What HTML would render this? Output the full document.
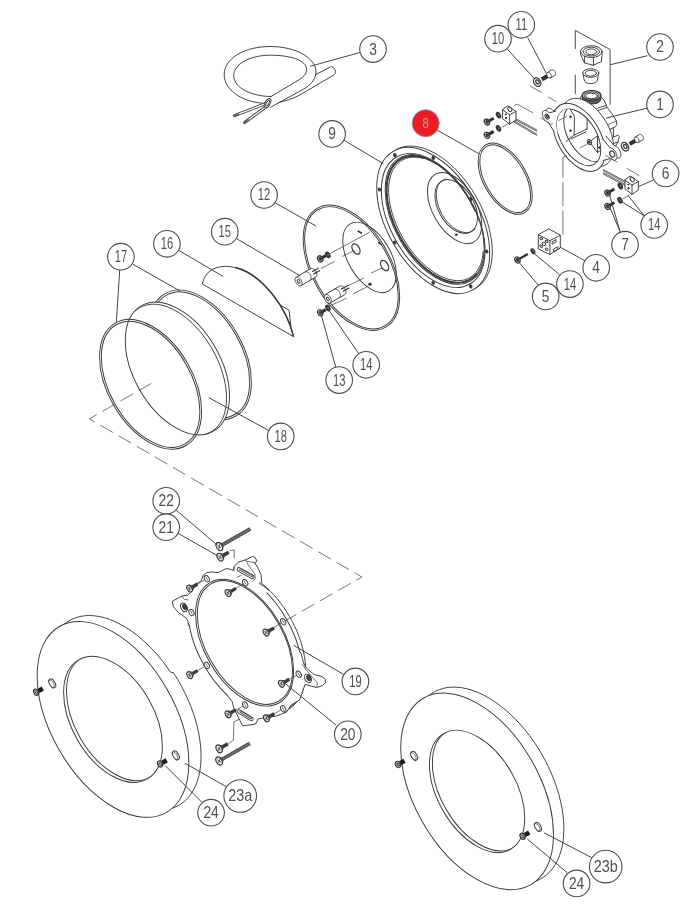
<!DOCTYPE html>
<html><head><meta charset="utf-8"><title>Exploded view</title>
<style>
html,body{margin:0;padding:0;background:#fff;}
body{width:696px;height:919px;overflow:hidden;font-family:"Liberation Sans",sans-serif;}
svg{display:block;}
svg *{vector-effect:none;}
.g line,.g path,.g ellipse,.g circle,.g polyline,.g rect{fill:none;stroke:#3a3a3a;stroke-width:0.95;stroke-linecap:round;stroke-linejoin:round;}
.g .w{fill:#fff;}
.g .k{fill:#3a3a3a;}
.g .thin{stroke-width:0.7;}
.g .cl{stroke:#555;stroke-width:0.8;stroke-dasharray:14.5 6.5;stroke-linecap:butt;}
.g .ld{stroke:#444;stroke-width:1.0;}
.g .cl2{stroke:#555;stroke-width:0.8;stroke-dasharray:24 4.5;stroke-linecap:butt;}
.g text.t{font-family:"Liberation Sans",sans-serif;font-size:16px;text-anchor:middle;fill:#505050;stroke:none;}
</style></head><body>
<svg width="696" height="919" viewBox="0 0 696 919"><defs><filter id="soft" x="0" y="0" width="696" height="919" filterUnits="userSpaceOnUse"><feGaussianBlur stdDeviation="0.42"/></filter></defs><g class="g" filter="url(#soft)">
<ellipse cx="200.4" cy="354.9" rx="70.7" ry="42.5" transform="rotate(60 200.4 354.9)"/>
<ellipse cx="200.4" cy="354.9" rx="68.8" ry="40.7" transform="rotate(60 200.4 354.9)"/>
<ellipse cx="177.4" cy="368.5" rx="72.3" ry="43.3" transform="rotate(60 177.4 368.5)" class="w"/>
<path d="M205.8 434 L208.6 433 L211.2 431.7 L213.7 430.1 L215.9 428.2 L218 426 L219.9 423.5 L221.5 420.8 L223 417.8 L224.2 414.5 L225.1 411.1 L225.8 407.5 L226.3 403.6 L226.5 399.6 L226.5 395.5 L226.2 391.2 L225.7 386.9 L224.9 382.4 L223.9 377.9 L222.7 373.4 L221.2 368.8 L219.5 364.2 L217.6 359.7 L215.5 355.2 L213.2 350.8 L210.7 346.4 L208 342.2 L205.2 338.2 L202.2 334.2 L199.1 330.5 L195.9 326.9 L192.6 323.6 L189.1 320.4 L185.7 317.5 L182.2 314.9 L178.6 312.5 L175 310.4 L171.5 308.6 L167.9 307.1 L164.4 305.9 L160.9 305 L157.6 304.5 L154.3 304.2 L151.1 304.3 L148 304.7 L145 305.4 L142.2 306.4 L139.6 307.7 L137.1 309.3 L134.9 311.2"/>
<ellipse cx="150.6" cy="384.3" rx="70.7" ry="42.5" transform="rotate(60 150.6 384.3)"/>
<ellipse cx="150.6" cy="384.3" rx="68.8" ry="40.7" transform="rotate(60 150.6 384.3)"/>
<path d="M279.7 304.8 L289.1 310.3 L290.9 325.9"/>
<path d="M202.4 283.6 C205 272 213 266.8 224.5 266.4 C241 265.8 259 277.5 272.8 294.8 C283 307.5 290 322 293.4 336.2 Z" class="w"/>
<path d="M236 267.8 C250 271 263 282.5 272.8 294.8 C283 307.5 290 322 293.4 336.2" style="stroke-width:1.5"/>
<ellipse cx="351.4" cy="267.8" rx="68.6" ry="39.2" transform="rotate(60 351.4 267.8)" class="w"/>
<ellipse cx="351.4" cy="267.8" rx="67" ry="37.7" transform="rotate(60 351.4 267.8)"/>
<ellipse cx="369.5" cy="257.4" rx="38.7" ry="21.4" transform="rotate(60 369.5 257.4)"/>
<ellipse cx="356" cy="249" rx="5.6" ry="3.4" transform="rotate(60 356 249)" style="stroke-width:1.3"/>
<ellipse cx="384.6" cy="265.5" rx="5.6" ry="3.4" transform="rotate(60 384.6 265.5)" style="stroke-width:1.3"/>
<circle cx="369.9" cy="284.2" r="1.3" class="k"/>
<line x1="358.3" y1="231.2" x2="361.3" y2="233" style="stroke-width:1.8"/>
<line x1="378.8" y1="242.6" x2="380.6" y2="244.2" style="stroke-width:1.8"/>
<line x1="330.3" y1="253.4" x2="369.5" y2="232.3" class="thin"/>
<line x1="342.4" y1="256.4" x2="352.4" y2="251.4" class="thin"/>
<line x1="321.2" y1="268.5" x2="334.3" y2="261.5" class="thin"/>
<line x1="371.5" y1="272.9" x2="381.6" y2="268.1" class="thin"/>
<line x1="348.4" y1="285.6" x2="363.5" y2="278.2" class="thin"/>
<line x1="353.4" y1="293.7" x2="367.5" y2="286.6" class="thin"/>
<line x1="332.3" y1="304.7" x2="346.4" y2="298.3" class="thin"/>
<line x1="321.5" y1="258.1" x2="325.8" y2="255.6" style="stroke:#2e2e2e;stroke-width:3;stroke-linecap:butt"/>
<ellipse cx="320.2" cy="258.9" rx="3.2" ry="2.4" transform="rotate(60 320.2 258.9)" class="w" style="stroke-width:1.3"/>
<ellipse cx="320.4" cy="258.8" rx="1.6" ry="1.2" transform="rotate(60 320.4 258.8)" class="k"/>
<ellipse cx="327.9" cy="254.8" rx="3.1" ry="1.9" transform="rotate(60 327.9 254.8)" style="fill:#3a3a3a;stroke:#2e2e2e;stroke-width:0.9"/>
<ellipse cx="328.1" cy="254.7" rx="1.1" ry="0.6" transform="rotate(60 328.1 254.7)" style="fill:#8a8a8a;stroke:none"/>
<line x1="321.5" y1="312.1" x2="325.8" y2="309.6" style="stroke:#2e2e2e;stroke-width:3;stroke-linecap:butt"/>
<ellipse cx="320.2" cy="312.8" rx="3.2" ry="2.4" transform="rotate(60 320.2 312.8)" class="w" style="stroke-width:1.3"/>
<ellipse cx="320.4" cy="312.7" rx="1.6" ry="1.2" transform="rotate(60 320.4 312.7)" class="k"/>
<ellipse cx="327.9" cy="308" rx="3.1" ry="1.9" transform="rotate(60 327.9 308)" style="fill:#3a3a3a;stroke:#2e2e2e;stroke-width:0.9"/>
<ellipse cx="328.1" cy="307.9" rx="1.1" ry="0.6" transform="rotate(60 328.1 307.9)" style="fill:#8a8a8a;stroke:none"/>
<path d="M296.2 277.2 L296 277.4 L295.9 277.5 L295.7 277.6 L295.6 277.8 L295.5 278 L295.4 278.2 L295.3 278.4 L295.2 278.6 L295.2 278.9 L295.2 279.1 L295.1 279.4 L295.1 279.7 L295.2 280 L295.2 280.3 L295.2 280.6 L295.3 280.9 L295.4 281.2 L295.5 281.5 L295.6 281.8 L295.7 282.1 L295.9 282.4 L296 282.7 L296.2 283 L296.4 283.3 L296.6 283.5 L296.8 283.8 L297 284.1 L297.2 284.3 L297.4 284.5 L297.6 284.7 L297.9 284.9 L298.1 285.1 L298.4 285.3 L298.6 285.4 L298.8 285.5 L299.1 285.6 L299.3 285.7 L299.5 285.7 L299.8 285.8 L300 285.8 L300.2 285.8 L300.4 285.8 L300.6 285.7 L300.8 285.6 L301 285.6 L315.7 277.1 L315.9 276.9 L316 276.8 L316.2 276.7 L316.3 276.5 L316.4 276.3 L316.5 276.1 L316.6 275.9 L316.7 275.7 L316.7 275.4 L316.8 275.2 L316.8 274.9 L316.8 274.6 L316.8 274.3 L316.7 274 L316.7 273.7 L316.6 273.4 L316.5 273.1 L316.4 272.8 L316.3 272.5 L316.2 272.2 L316.1 271.9 L315.9 271.6 L315.7 271.3 L315.6 271 L315.4 270.8 L315.2 270.5 L315 270.2 L314.7 270 L314.5 269.8 L314.3 269.6 L314 269.4 L313.8 269.2 L313.6 269 L313.3 268.9 L313.1 268.8 L312.8 268.7 L312.6 268.6 L312.4 268.6 L312.1 268.5 L311.9 268.5 L311.7 268.5 L311.5 268.5 L311.3 268.6 L311.1 268.7 L310.9 268.7 Z" class="w"/>
<path d="M301 285.6 L301.2 285.4 L301.3 285.3 L301.5 285.2 L301.6 285 L301.7 284.8 L301.8 284.6 L301.9 284.4 L302 284.2 L302 283.9 L302 283.7 L302.1 283.4 L302.1 283.1 L302 282.8 L302 282.5 L302 282.2 L301.9 281.9 L301.8 281.6 L301.7 281.3 L301.6 281 L301.5 280.7 L301.3 280.4 L301.2 280.1 L301 279.8 L300.8 279.5 L300.6 279.3 L300.4 279 L300.2 278.7 L300 278.5 L299.8 278.3 L299.6 278.1 L299.3 277.9 L299.1 277.7 L298.8 277.5 L298.6 277.4 L298.4 277.3 L298.1 277.2 L297.9 277.1 L297.7 277.1 L297.4 277 L297.2 277 L297 277 L296.8 277 L296.6 277.1 L296.4 277.2 L296.2 277.2"/>
<ellipse cx="298.6" cy="281.4" rx="2" ry="1.2" transform="rotate(60 298.6 281.4)"/>
<path d="M309.9 280.4 L310.1 280.3 L310.3 280.2 L310.4 280.1 L310.6 279.9 L310.7 279.8 L310.8 279.6 L310.9 279.4 L311 279.2 L311.1 278.9 L311.1 278.7 L311.2 278.4 L311.2 278.2 L311.2 277.9 L311.2 277.6 L311.1 277.3 L311.1 277 L311 276.7 L310.9 276.4 L310.8 276.1 L310.7 275.7 L310.6 275.4 L310.5 275.1 L310.3 274.8 L310.1 274.5 L310 274.3 L309.8 274 L309.6 273.7 L309.3 273.5 L309.1 273.2 L308.9 273 L308.7 272.8 L308.4 272.6 L308.2 272.4 L307.9 272.3 L307.7 272.1 L307.5 272 L307.2 271.9 L307 271.8 L306.7 271.8 L306.5 271.7 L306.3 271.7 L306.1 271.7 L305.9 271.8 L305.7 271.8 L305.5 271.9 L305.3 272 L305.1 272.1"/>
<line x1="312.5" y1="271.5" x2="318.2" y2="268.3" style="stroke-width:1.3"/>
<line x1="313.9" y1="273.9" x2="319.6" y2="270.7" style="stroke-width:1.3"/>
<path d="M325.4 294.6 L325.2 294.8 L325.1 294.9 L324.9 295 L324.8 295.2 L324.7 295.4 L324.6 295.6 L324.5 295.8 L324.4 296 L324.4 296.3 L324.4 296.5 L324.3 296.8 L324.3 297.1 L324.4 297.4 L324.4 297.7 L324.4 298 L324.5 298.3 L324.6 298.6 L324.7 298.9 L324.8 299.2 L324.9 299.5 L325.1 299.8 L325.2 300.1 L325.4 300.4 L325.6 300.7 L325.8 300.9 L326 301.2 L326.2 301.5 L326.4 301.7 L326.6 301.9 L326.8 302.1 L327.1 302.3 L327.3 302.5 L327.6 302.7 L327.8 302.8 L328 302.9 L328.3 303 L328.5 303.1 L328.7 303.1 L329 303.2 L329.2 303.2 L329.4 303.2 L329.6 303.2 L329.8 303.1 L330 303 L330.2 303 L344.9 294.5 L345.1 294.3 L345.2 294.2 L345.4 294.1 L345.5 293.9 L345.6 293.7 L345.7 293.5 L345.8 293.3 L345.9 293.1 L345.9 292.8 L346 292.6 L346 292.3 L346 292 L346 291.7 L345.9 291.4 L345.9 291.1 L345.8 290.8 L345.7 290.5 L345.6 290.2 L345.5 289.9 L345.4 289.6 L345.3 289.3 L345.1 289 L344.9 288.7 L344.8 288.4 L344.6 288.2 L344.4 287.9 L344.2 287.6 L343.9 287.4 L343.7 287.2 L343.5 287 L343.2 286.8 L343 286.6 L342.8 286.4 L342.5 286.3 L342.3 286.2 L342 286.1 L341.8 286 L341.6 286 L341.3 285.9 L341.1 285.9 L340.9 285.9 L340.7 285.9 L340.5 286 L340.3 286.1 L340.1 286.1 Z" class="w"/>
<path d="M330.2 303 L330.4 302.8 L330.5 302.7 L330.7 302.6 L330.8 302.4 L330.9 302.2 L331 302 L331.1 301.8 L331.2 301.6 L331.2 301.3 L331.2 301.1 L331.3 300.8 L331.3 300.5 L331.2 300.2 L331.2 299.9 L331.2 299.6 L331.1 299.3 L331 299 L330.9 298.7 L330.8 298.4 L330.7 298.1 L330.5 297.8 L330.4 297.5 L330.2 297.2 L330 296.9 L329.8 296.7 L329.6 296.4 L329.4 296.1 L329.2 295.9 L329 295.7 L328.8 295.5 L328.5 295.3 L328.3 295.1 L328 294.9 L327.8 294.8 L327.6 294.7 L327.3 294.6 L327.1 294.5 L326.9 294.5 L326.6 294.4 L326.4 294.4 L326.2 294.4 L326 294.4 L325.8 294.5 L325.6 294.6 L325.4 294.6"/>
<ellipse cx="327.8" cy="298.8" rx="2" ry="1.2" transform="rotate(60 327.8 298.8)"/>
<path d="M339.1 297.8 L339.3 297.7 L339.5 297.6 L339.6 297.5 L339.8 297.3 L339.9 297.2 L340 297 L340.1 296.8 L340.2 296.6 L340.3 296.3 L340.3 296.1 L340.4 295.8 L340.4 295.6 L340.4 295.3 L340.4 295 L340.3 294.7 L340.3 294.4 L340.2 294.1 L340.1 293.8 L340 293.5 L339.9 293.1 L339.8 292.8 L339.7 292.5 L339.5 292.2 L339.3 291.9 L339.2 291.7 L339 291.4 L338.8 291.1 L338.5 290.9 L338.3 290.6 L338.1 290.4 L337.9 290.2 L337.6 290 L337.4 289.8 L337.1 289.7 L336.9 289.5 L336.7 289.4 L336.4 289.3 L336.2 289.2 L335.9 289.2 L335.7 289.1 L335.5 289.1 L335.3 289.1 L335.1 289.2 L334.9 289.2 L334.7 289.3 L334.5 289.4 L334.3 289.5"/>
<line x1="341.7" y1="288.9" x2="347.4" y2="285.7" style="stroke-width:1.3"/>
<line x1="343.1" y1="291.3" x2="348.8" y2="288.1" style="stroke-width:1.3"/>
<path d="M469.8 290.7 L472.9 289.6 L475.7 288.2 L478.4 286.4 L480.9 284.3 L483.2 281.9 L485.2 279.2 L487 276.1 L488.5 272.8 L489.8 269.3 L490.8 265.5 L491.6 261.4 L492.1 257.2 L492.3 252.8 L492.2 248.2 L491.9 243.4 L491.2 238.6 L490.3 233.6 L489.2 228.6 L487.8 223.5 L486.1 218.5 L484.2 213.4 L482.1 208.3 L479.7 203.3 L477.1 198.4 L474.3 193.5 L471.3 188.8 L468.2 184.3 L464.9 179.9 L461.4 175.7 L457.8 171.7 L454.2 167.9 L450.4 164.4 L446.6 161.2 L442.7 158.2 L438.7 155.6 L434.8 153.2 L430.9 151.2 L426.9 149.5 L423.1 148.1 L419.3 147.1 L415.5 146.4 L411.9 146.1 L408.4 146.1 L405 146.5 L401.8 147.3 L398.7 148.4 L395.8 149.8 L393.2 151.6 L390.7 153.7 Z" class="w"/>
<ellipse cx="433.2" cy="220.5" rx="79.9" ry="46.1" transform="rotate(60 433.2 220.5)" class="w"/>
<ellipse cx="433.2" cy="220.5" rx="73.3" ry="42.3" transform="rotate(60 433.2 220.5)"/>
<clipPath id="p9"><ellipse cx="433.2" cy="220.5" rx="73.3" ry="42.3" transform="rotate(60 433.2 220.5)"/></clipPath>
<g clip-path="url(#p9)">
<ellipse cx="435.1" cy="219.4" rx="71" ry="40.6" transform="rotate(60 435.1 219.4)"/>
<ellipse cx="435.4" cy="219.2" rx="69.5" ry="39.5" transform="rotate(60 435.4 219.2)"/>
<path d="M475.1 210.3 L473.4 206.7 L471.6 203.2 L469.7 199.8 L467.7 196.4 L465.6 193.1 L463.4 189.9 L461.1 186.7 L458.7 183.7 L456.2 180.8 L453.7 178 L451.1 175.4 L448.5 172.8 L445.8 170.5 L443.1 168.3 L440.4 166.2 L437.6 164.3 L434.8 162.6 L432.1 161.1 L429.3 159.8 L426.6 158.7 L423.9 157.7 L421.2 157 L418.6 156.4 L416.1 156.1 L413.6 155.9 L411.1 156 L408.8 156.2 L406.5 156.7 L404.3 157.3 L402.2 158.2 L400.3 159.3 L398.4 160.5 L396.7 161.9 L395.1 163.6 L393.6 165.4 L392.2 167.3 L391 169.5 L389.9 171.8 L389 174.2 L388.2 176.8 L387.6 179.5 L387.1 182.4 L386.8 185.4 L386.6 188.5 L386.6 191.6 L386.8 194.9 L387.1 198.3 L387.5 201.7 L388.1 205.2 L388.9 208.7 L389.8 212.2 L390.9 215.8 L392.1 219.4 L393.4 223 L394.9 226.5 L396.5 230.1 L398.2 233.6 L400.1 237.1 L402 240.5 L404.1 243.8 L406.3 247.1 L408.5 250.3 L410.9 253.3 L413.3 256.3 L415.8 259.2 L418.4 261.9 L421 264.5 L423.6 266.9 L426.3 269.2 L429.1 271.3 L431.8 273.3 L434.6 275.1 L437.3 276.7 L440.1 278.1 L442.8 279.3 L445.5 280.4 L448.2 281.2 L450.9 281.9 L453.4 282.3 L456 282.5 L458.4 282.6 L460.8 282.4 L463.2 282.1 L465.4 281.5 L467.5 280.7 L469.5 279.8 L471.4 278.6 L473.2 277.3 L474.9 275.7 L476.5 274" style="stroke-width:1.9"/>
<path d="M423.2 158.5 L420 157.7 L416.9 157.3 L413.9 157.2 L411 157.3 L408.2 157.8 L405.6 158.6 L403.1 159.6 L400.8 161 L398.7 162.6 L396.7 164.6 L394.9 166.8 L393.4 169.2 L392 171.9 L390.9 174.8 L390 178 L389.3 181.3 L388.8 184.9 L388.6 188.6 L388.6 192.4 L388.9 196.4 L389.4 200.5 L390.1 204.7 L391 209 L392.2 213.3 L393.6 217.6 L395.2 222 L397 226.3 L399 230.6 L401.1 234.8 L403.5 239 L406 243 L408.6 247 L411.4 250.8 L414.3 254.4 L417.3 257.9 L420.4 261.2 L423.6 264.2 L426.9 267.1 L430.2 269.6 L433.5 272 L436.8 274.1 L440.1 275.9 L443.5 277.4 L446.7 278.7 L449.9 279.6 L453.1 280.2 L456.2 280.6 L459.1 280.6 L462 280.4 L464.7 279.8 L467.3 278.9 L469.7 277.7 L471.9 276.3 L474 274.5 L475.9 272.5 L477.6 270.2 L479.1 267.6 L480.4 264.9 L481.4 261.9 L482.2 258.6 L482.8 255.2 L483.2 251.6"/>
</g>
<ellipse cx="454.6" cy="208.1" rx="39" ry="21.8" transform="rotate(60 454.6 208.1)"/>
<ellipse cx="456.2" cy="206.5" rx="29.3" ry="17.8" transform="rotate(60 456.2 206.5)"/>
<path d="M445.8 179.2 L444.6 179.5 L443.5 180 L442.4 180.7 L441.4 181.4 L440.5 182.3 L439.7 183.2 L438.9 184.3 L438.2 185.5 L437.7 186.8 L437.2 188.2 L436.8 189.6 L436.6 191.2 L436.4 192.8 L436.3 194.5 L436.4 196.2 L436.5 198 L436.8 199.8 L437.1 201.6 L437.6 203.5 L438.1 205.4 L438.7 207.3 L439.5 209.1 L440.3 211 L441.2 212.8 L442.2 214.6 L443.2 216.3 L444.4 218 L445.6 219.7 L446.8 221.2 L448.1 222.7 L449.5 224.2 L450.9 225.5 L452.3 226.7 L453.7 227.8 L455.2 228.8 L456.7 229.7 L458.2 230.5 L459.7 231.2 L461.1 231.7 L462.6 232.1 L464 232.4 L465.4 232.6 L466.8 232.6 L468.1 232.5 L469.4 232.2 L470.6 231.9 L471.7 231.4 L472.8 230.7 L473.8 230 L474.7 229.1"/>
<ellipse cx="394.9" cy="155.1" rx="1.6" ry="1.2" class="k" transform="rotate(60 394.9 155.1)"/>
<ellipse cx="433.2" cy="157.9" rx="1.6" ry="1.2" class="k" transform="rotate(60 433.2 157.9)"/>
<ellipse cx="379.4" cy="189.5" rx="1.6" ry="1.2" class="k" transform="rotate(60 379.4 189.5)"/>
<ellipse cx="470.7" cy="199" rx="1.6" ry="1.2" class="k" transform="rotate(60 470.7 199)"/>
<ellipse cx="394.9" cy="242.5" rx="1.6" ry="1.2" class="k" transform="rotate(60 394.9 242.5)"/>
<ellipse cx="486.7" cy="251.5" rx="1.6" ry="1.2" class="k" transform="rotate(60 486.7 251.5)"/>
<ellipse cx="433.2" cy="282.6" rx="1.6" ry="1.2" class="k" transform="rotate(60 433.2 282.6)"/>
<ellipse cx="470.7" cy="286.4" rx="1.6" ry="1.2" class="k" transform="rotate(60 470.7 286.4)"/>
<circle cx="456.2" cy="234.7" r="0.9" class="k"/>
<ellipse cx="505.2" cy="178.7" rx="39.1" ry="21.6" transform="rotate(60 505.2 178.7)"/>
<ellipse cx="505.2" cy="178.7" rx="37.3" ry="19.9" transform="rotate(60 505.2 178.7)"/>
<path d="M575.3 48.5 L575.3 30.4 L610.1 49.5 L610.1 104.4" style="stroke-width:0.9"/>
<line x1="575.3" y1="75" x2="575.3" y2="93.6" style="stroke-width:0.9"/>
<path d="M580.5 51.6 L580.7 54.8 L584.6 62.9 L593.4 65.3 L601.3 61.5 L602.1 55.1 L602.1 51.6" class="w"/>
<line x1="584.6" y1="56.3" x2="584.6" y2="62.9"/>
<line x1="593.4" y1="57.6" x2="593.4" y2="65.3"/>
<ellipse cx="591.3" cy="51.6" rx="10.8" ry="5.9" class="w"/>
<ellipse cx="591.3" cy="51.6" rx="8.3" ry="4.4"/>
<ellipse cx="591.3" cy="51.8" rx="5.4" ry="2.9"/>
<path d="M582.8 73 L584.2 80 A6.6 3.6 0 0 0 597.4 80 L598.8 73" class="w"/>
<ellipse cx="590.8" cy="73" rx="8" ry="4.3" class="w"/>
<ellipse cx="590.8" cy="73.2" rx="5.6" ry="2.9"/>
<path d="M597.5 100.5 L606 104.2 L606.5 106.4 L606.9 107.2 L612.9 115 L616.4 121 L616.8 124.5 L615.5 126.6 L612.9 127.9 L613.4 128.6 L613.4 137 L618.1 135.3 L619.4 136.6 L618.1 141.7 L615.5 146 L611.3 149.5 L600 160 L570 110 L583 99 Z" style="fill:#fff;stroke:none"/>
<path d="M597.5 100.5 L606 104.2 L606.5 106.4 L606.9 107.2 L612.9 115 L616.4 121 L616.8 124.5 L615.5 126.6 L612.9 127.9 L613.4 128.6 L613.4 137 L618.1 135.3 L619.4 136.6 L618.1 141.7 L615.5 146 L611.3 149.5"/>
<line x1="594" y1="109" x2="606" y2="105.5"/>
<line x1="594.8" y1="111.6" x2="606.9" y2="107.4"/>
<line x1="612.9" y1="127.9" x2="607.8" y2="130.3"/>
<line x1="613.4" y1="137" x2="610.6" y2="139.7"/>
<line x1="618.1" y1="141.7" x2="612" y2="144.2"/>
<line x1="616.4" y1="121" x2="604.5" y2="126.3" class="thin"/>
<path d="M594 109 L582.2 102.5 L580.2 97.5 L584 93.5 L600.3 96 L604.2 100.5 L606 104.2 Z" style="fill:#fff;stroke:none"/>
<path d="M594 109 L582.2 102.5 L580.2 97.5 L584 93.5 L600.3 96 L604.2 100.5 L606 104.2"/>
<path d="M582.1 95.4 L582.3 100 A9.4 5.0 0 0 0 600.7 100 L600.9 95.4" style="fill:#5a5a5a;stroke:#333"/>
<ellipse cx="591.5" cy="95.4" rx="9.4" ry="5.0" class="w" style="stroke-width:1.3"/>
<ellipse cx="591.5" cy="95.6" rx="7.6" ry="3.8" style="stroke-width:1.2;stroke:#555"/>
<ellipse cx="591.5" cy="95.9" rx="5.9" ry="2.7" class="w"/>
<path d="M601.7 166.2 L603.2 165.9 L604.6 165.4 L605.9 164.7 L607.2 163.9 L608.3 162.9 L609.4 161.8 L610.3 160.5 L611.2 159.1 L611.9 157.5 L612.5 155.9 L613 154.1 L613.3 152.2 L613.5 150.2 L613.6 148.2 L613.6 146 L613.4 143.8 L613.2 141.6 L612.7 139.2 L612.2 136.9 L611.5 134.5 L610.8 132.2 L609.9 129.8 L608.9 127.4 L607.8 125.1 L606.5 122.8 L605.2 120.5 L603.9 118.3 L602.4 116.2 L600.8 114.2 L599.2 112.2 L597.6 110.3 L595.8 108.6 L594.1 106.9 L592.3 105.4 L590.5 104 L588.6 102.8 L586.8 101.7 L585 100.7 L583.1 99.9 L581.3 99.3 L579.6 98.8 L577.8 98.5 L576.1 98.4 L574.5 98.4 L572.9 98.6 L571.4 98.9 L570 99.4 L568.6 100.1 L567.4 100.9 L566.2 101.9 L565.2 103 Z" class="w"/>
<path d="M607.3 158.1 L614.6 156.2 L615.4 156.9 L616.2 157.4 L616.9 157.7 L617.7 158 L618.4 158 L619.1 157.9 L619.7 157.6 L620.1 157.2 L620.5 156.6 L620.8 155.9 L620.9 155.1 L620.9 154.2 L620.8 153.2 L620.6 152.2 L620.2 151.2 L619.7 150.2 L619.2 149.3 L618.5 148.4 L617.8 147.6 L617.1 146.9 L616.3 146.4 L615.5 145.9 L614.8 145.7 L614 145.6 L606.1 136.1" class="w"/>
<path d="M559.3 109 L553.1 110.5 L552.4 109.8 L551.6 109.2 L550.8 108.7 L550.1 108.3 L549.3 108.1 L548.6 108.1 L548 108.3 L547.4 108.6 L546.9 109 L546.6 109.6 L546.3 110.4 L546.2 111.2 L546.2 112.1 L546.4 113.1 L546.6 114.1 L547 115.1 L547.5 116.1 L548.1 117 L548.7 117.9 L549.5 118.7 L550.2 119.3 L551 119.9 L551.8 120.2 L552.5 120.5 L558.1 129.6" class="w"/>
<ellipse cx="578.8" cy="137.3" rx="37.3" ry="21.5" transform="rotate(60 578.8 137.3)" class="w"/>
<path d="M603.4 160.4 L610.7 158.5 L611.5 159.1 L612.3 159.6 L613.1 160 L613.8 160.2 L614.5 160.3 L615.2 160.1 L615.8 159.9 L616.2 159.4 L616.6 158.9 L616.9 158.2 L617 157.3 L617 156.5 L616.9 155.5 L616.7 154.5 L616.3 153.5 L615.9 152.5 L615.3 151.5 L614.6 150.6 L613.9 149.9 L613.2 149.2 L612.4 148.6 L611.6 148.2 L610.9 147.9 L610.1 147.8 L602.2 138.3" class="w"/>
<ellipse cx="612.2" cy="154" rx="3.2" ry="2.3" transform="rotate(60 612.2 154)" class="w" style="stroke-width:1.1"/>
<path d="M555.4 111.3 L549.2 112.8 L548.5 112 L547.7 111.4 L546.9 110.9 L546.2 110.6 L545.4 110.4 L544.7 110.4 L544.1 110.5 L543.5 110.8 L543 111.3 L542.7 111.9 L542.4 112.6 L542.3 113.4 L542.3 114.3 L542.5 115.3 L542.7 116.3 L543.1 117.3 L543.6 118.3 L544.2 119.3 L544.8 120.1 L545.6 120.9 L546.3 121.6 L547.1 122.1 L547.9 122.5 L548.6 122.7 L554.2 131.9" class="w"/>
<ellipse cx="547.1" cy="116.6" rx="2.7" ry="1.9" transform="rotate(60 547.1 116.6)" class="w"/>
<ellipse cx="547.4" cy="116.4" rx="1.5" ry="1" transform="rotate(60 547.4 116.4)" style="fill:#666"/>
<clipPath id="bore"><ellipse cx="578.8" cy="137.3" rx="31" ry="17.9" transform="rotate(60 578.8 137.3)"/></clipPath>
<ellipse cx="578.8" cy="137.3" rx="31" ry="17.9" transform="rotate(60 578.8 137.3)" class="w"/>
<g clip-path="url(#bore)">
<path d="M568.7 107.1 L574.5 116.3 L574.1 135.2 L566 141.5 L555 130 L560 105 Z" style="fill:#fff;stroke:none"/>
<path d="M568.7 107.1 L574.5 116.3 L574.1 135.2 L566 141.5"/>
<line x1="574.1" y1="135.2" x2="587.1" y2="128.9"/>
<line x1="587.1" y1="128.9" x2="587.1" y2="112"/>
<line x1="571" y1="138.9" x2="586" y2="131.8"/>
<circle cx="570.5" cy="116.8" r="0.9" class="k"/><circle cx="570.5" cy="130.6" r="0.9" class="k"/>
<ellipse cx="585.7" cy="133.3" rx="31" ry="17.9" transform="rotate(60 585.7 133.3)"/>
<path d="M590.6 141 L597.5 135.8 L597.5 152.5 L591.2 144.2"/>
<line x1="597.5" y1="131.8" x2="597.5" y2="135.8"/>
<line x1="597.5" y1="135.8" x2="600.5" y2="134"/>
<line x1="597.5" y1="152.5" x2="601.5" y2="149.5"/>
<line x1="601.5" y1="149.5" x2="601.5" y2="140"/>
<ellipse cx="589.4" cy="142.1" rx="2.6" ry="1.9" transform="rotate(60 589.4 142.1)" class="w"/>
<ellipse cx="589.4" cy="142.1" rx="1.1" ry="0.8" transform="rotate(60 589.4 142.1)" class="k"/>
<circle cx="599.5" cy="147.6" r="0.9" class="k"/>
<line x1="580.2" y1="147.9" x2="588" y2="143.4" class="thin"/>
</g>
<path d="M514.5 105.4 L517.4 104.2 L532.9 112.8" class="thin"/>
<path d="M562.9 234.5 L562.9 157.5 L567 155.2" class="cl2"/>
<ellipse cx="537.2" cy="82.1" rx="4.6" ry="3.3" transform="rotate(60 537.2 82.1)" class="w" style="stroke-width:1.3"/>
<ellipse cx="537.5" cy="81.9" rx="2.2" ry="1.5" transform="rotate(60 537.5 81.9)" style="stroke-width:1.3"/>
<line x1="541.8" y1="79.4" x2="549.6" y2="74.9" style="stroke:#333;stroke-width:4.2;stroke-linecap:butt"/>
<path d="M547.5 72.5 L547.3 72.6 L547.2 72.7 L547.1 72.8 L547.1 72.9 L547 73 L546.9 73.1 L546.9 73.3 L546.8 73.4 L546.8 73.6 L546.8 73.8 L546.7 73.9 L546.7 74.1 L546.7 74.3 L546.8 74.5 L546.8 74.7 L546.8 74.9 L546.9 75.1 L547 75.3 L547 75.5 L547.1 75.7 L547.2 75.9 L547.3 76.1 L547.4 76.2 L547.5 76.4 L547.6 76.6 L547.8 76.8 L547.9 76.9 L548.1 77.1 L548.2 77.2 L548.4 77.4 L548.5 77.5 L548.7 77.6 L548.8 77.7 L549 77.8 L549.1 77.9 L549.3 77.9 L549.4 78 L549.6 78 L549.7 78 L549.9 78 L550 78 L550.2 78 L550.3 78 L550.4 77.9 L550.5 77.9 L554.9 75.4 L555.1 75.3 L555.2 75.2 L555.3 75.1 L555.3 75 L555.4 74.9 L555.5 74.8 L555.5 74.6 L555.6 74.5 L555.6 74.3 L555.6 74.1 L555.7 74 L555.7 73.8 L555.7 73.6 L555.6 73.4 L555.6 73.2 L555.6 73 L555.5 72.8 L555.4 72.6 L555.4 72.4 L555.3 72.2 L555.2 72 L555.1 71.8 L555 71.7 L554.9 71.5 L554.8 71.3 L554.6 71.1 L554.5 71 L554.3 70.8 L554.2 70.7 L554 70.5 L553.9 70.4 L553.7 70.3 L553.6 70.2 L553.4 70.1 L553.3 70 L553.1 70 L553 69.9 L552.8 69.9 L552.7 69.9 L552.5 69.9 L552.4 69.9 L552.2 69.9 L552.1 69.9 L552 70 L551.9 70 Z" class="w"/>
<path d="M550.5 77.9 L550.7 77.8 L550.8 77.7 L550.9 77.6 L550.9 77.5 L551 77.4 L551.1 77.3 L551.1 77.1 L551.2 77 L551.2 76.8 L551.2 76.6 L551.3 76.5 L551.3 76.3 L551.3 76.1 L551.2 75.9 L551.2 75.7 L551.2 75.5 L551.1 75.3 L551 75.1 L551 74.9 L550.9 74.7 L550.8 74.5 L550.7 74.3 L550.6 74.2 L550.5 74 L550.4 73.8 L550.2 73.6 L550.1 73.5 L549.9 73.3 L549.8 73.2 L549.6 73 L549.5 72.9 L549.3 72.8 L549.2 72.7 L549 72.6 L548.9 72.5 L548.7 72.5 L548.6 72.4 L548.4 72.4 L548.3 72.4 L548.1 72.4 L548 72.4 L547.8 72.4 L547.7 72.4 L547.6 72.5 L547.5 72.5"/>
<ellipse cx="625" cy="146.7" rx="4.6" ry="3.3" transform="rotate(60 625 146.7)" class="w" style="stroke-width:1.3"/>
<ellipse cx="625.3" cy="146.5" rx="2.2" ry="1.5" transform="rotate(60 625.3 146.5)" style="stroke-width:1.3"/>
<line x1="629.6" y1="144" x2="637.4" y2="139.5" style="stroke:#333;stroke-width:4.2;stroke-linecap:butt"/>
<path d="M635.2 137.1 L635.1 137.2 L635 137.3 L634.9 137.4 L634.9 137.5 L634.8 137.6 L634.7 137.7 L634.7 137.9 L634.6 138 L634.6 138.2 L634.6 138.4 L634.5 138.5 L634.5 138.7 L634.5 138.9 L634.6 139.1 L634.6 139.3 L634.6 139.5 L634.7 139.7 L634.8 139.9 L634.8 140.1 L634.9 140.3 L635 140.5 L635.1 140.7 L635.2 140.8 L635.3 141 L635.4 141.2 L635.6 141.4 L635.7 141.5 L635.9 141.7 L636 141.8 L636.2 142 L636.3 142.1 L636.5 142.2 L636.6 142.3 L636.8 142.4 L636.9 142.5 L637.1 142.5 L637.2 142.6 L637.4 142.6 L637.5 142.6 L637.7 142.6 L637.8 142.6 L638 142.6 L638.1 142.6 L638.2 142.5 L638.3 142.5 L642.7 140 L642.9 139.9 L643 139.8 L643.1 139.7 L643.1 139.6 L643.2 139.5 L643.3 139.4 L643.3 139.2 L643.4 139.1 L643.4 138.9 L643.4 138.7 L643.5 138.6 L643.5 138.4 L643.5 138.2 L643.4 138 L643.4 137.8 L643.4 137.6 L643.3 137.4 L643.2 137.2 L643.2 137 L643.1 136.8 L643 136.6 L642.9 136.4 L642.8 136.3 L642.7 136.1 L642.6 135.9 L642.4 135.7 L642.3 135.6 L642.1 135.4 L642 135.3 L641.8 135.1 L641.7 135 L641.5 134.9 L641.4 134.8 L641.2 134.7 L641.1 134.6 L640.9 134.6 L640.8 134.5 L640.6 134.5 L640.5 134.5 L640.3 134.5 L640.2 134.5 L640 134.5 L639.9 134.5 L639.8 134.6 L639.6 134.6 Z" class="w"/>
<path d="M638.3 142.5 L638.5 142.4 L638.6 142.3 L638.7 142.2 L638.7 142.1 L638.8 142 L638.9 141.9 L638.9 141.7 L639 141.6 L639 141.4 L639 141.2 L639.1 141.1 L639.1 140.9 L639.1 140.7 L639 140.5 L639 140.3 L639 140.1 L638.9 139.9 L638.8 139.7 L638.8 139.5 L638.7 139.3 L638.6 139.1 L638.5 138.9 L638.4 138.8 L638.3 138.6 L638.2 138.4 L638 138.2 L637.9 138.1 L637.7 137.9 L637.6 137.8 L637.4 137.6 L637.3 137.5 L637.1 137.4 L637 137.3 L636.8 137.2 L636.7 137.1 L636.5 137.1 L636.4 137 L636.2 137 L636.1 137 L635.9 137 L635.8 137 L635.6 137 L635.5 137 L635.4 137.1 L635.2 137.1"/>
<line x1="513.1" y1="117.3" x2="536.8" y2="129.9" style="stroke-width:0.8"/>
<line x1="513.1" y1="118.6" x2="536.8" y2="131.2" style="stroke-width:0.8"/>
<line x1="513.1" y1="120.2" x2="536.8" y2="134.1" style="stroke-width:0.8"/>
<line x1="513.1" y1="121.5" x2="536.8" y2="135.4" style="stroke-width:0.8"/>
<path d="M502.6 109.8 L502.6 118.6 L509.6 124.2 L516 119.8 L516 111.4 L508.1 106 Z" class="w"/>
<path d="M502.6 109.8 L509.6 114.8 L516 111.4"/>
<line x1="509.6" y1="114.8" x2="509.6" y2="124.2"/>
<ellipse cx="509.8" cy="109.2" rx="2.6" ry="1.8" transform="rotate(60 509.8 109.2)"/>
<circle cx="506" cy="118" r="0.7" class="k"/>
<circle cx="505.8" cy="114.4" r="0.6" class="k"/>
<line x1="488.2" y1="121.3" x2="493.7" y2="118.2" style="stroke:#2e2e2e;stroke-width:3;stroke-linecap:butt"/>
<ellipse cx="486.9" cy="122.1" rx="3.2" ry="2.4" transform="rotate(60 486.9 122.1)" class="w" style="stroke-width:1.3"/>
<ellipse cx="487.1" cy="122" rx="1.6" ry="1.2" transform="rotate(60 487.1 122)" class="k"/>
<line x1="488.2" y1="134.6" x2="493.7" y2="131.4" style="stroke:#2e2e2e;stroke-width:3;stroke-linecap:butt"/>
<ellipse cx="486.9" cy="135.3" rx="3.2" ry="2.4" transform="rotate(60 486.9 135.3)" class="w" style="stroke-width:1.3"/>
<ellipse cx="487.1" cy="135.2" rx="1.6" ry="1.2" transform="rotate(60 487.1 135.2)" class="k"/>
<ellipse cx="498.5" cy="115.1" rx="3.1" ry="1.9" transform="rotate(60 498.5 115.1)" style="fill:#3a3a3a;stroke:#2e2e2e;stroke-width:0.9"/>
<ellipse cx="498.7" cy="115" rx="1.1" ry="0.6" transform="rotate(60 498.7 115)" style="fill:#8a8a8a;stroke:none"/>
<ellipse cx="498.5" cy="128.4" rx="3.1" ry="1.9" transform="rotate(60 498.5 128.4)" style="fill:#3a3a3a;stroke:#2e2e2e;stroke-width:0.9"/>
<ellipse cx="498.7" cy="128.3" rx="1.1" ry="0.6" transform="rotate(60 498.7 128.3)" style="fill:#8a8a8a;stroke:none"/>
<line x1="502" y1="127.2" x2="508.5" y2="123.6" class="thin"/>
<line x1="603.3" y1="169.6" x2="626" y2="181.6" style="stroke-width:0.8"/>
<line x1="603.3" y1="170.9" x2="626" y2="182.9" style="stroke-width:0.8"/>
<line x1="603.3" y1="172.8" x2="626" y2="184.8" style="stroke-width:0.8"/>
<line x1="603.3" y1="174.1" x2="626" y2="186.1" style="stroke-width:0.8"/>
<path d="M625 180 L625 188.8 L632 194.4 L638.4 190 L638.4 181.6 L630.5 176.2 Z" class="w"/>
<path d="M625 180 L632 185 L638.4 181.6"/>
<line x1="632" y1="185" x2="632" y2="194.4"/>
<ellipse cx="632.2" cy="179.4" rx="2.6" ry="1.8" transform="rotate(60 632.2 179.4)"/>
<circle cx="628.4" cy="188.2" r="0.7" class="k"/>
<circle cx="628.2" cy="184.6" r="0.6" class="k"/>
<ellipse cx="620.3" cy="186.1" rx="3.1" ry="1.9" transform="rotate(60 620.3 186.1)" style="fill:#3a3a3a;stroke:#2e2e2e;stroke-width:0.9"/>
<ellipse cx="620.5" cy="186" rx="1.1" ry="0.6" transform="rotate(60 620.5 186)" style="fill:#8a8a8a;stroke:none"/>
<line x1="608.8" y1="192.2" x2="614.4" y2="189" style="stroke:#2e2e2e;stroke-width:3;stroke-linecap:butt"/>
<ellipse cx="607.5" cy="193" rx="3.2" ry="2.4" transform="rotate(60 607.5 193)" class="w" style="stroke-width:1.3"/>
<ellipse cx="607.7" cy="192.9" rx="1.6" ry="1.2" transform="rotate(60 607.7 192.9)" class="k"/>
<line x1="608.8" y1="205.8" x2="614.4" y2="202.5" style="stroke:#2e2e2e;stroke-width:3;stroke-linecap:butt"/>
<ellipse cx="607.5" cy="206.5" rx="3.2" ry="2.4" transform="rotate(60 607.5 206.5)" class="w" style="stroke-width:1.3"/>
<ellipse cx="607.7" cy="206.4" rx="1.6" ry="1.2" transform="rotate(60 607.7 206.4)" class="k"/>
<ellipse cx="620" cy="200.2" rx="3.1" ry="1.9" transform="rotate(60 620 200.2)" style="fill:#3a3a3a;stroke:#2e2e2e;stroke-width:0.9"/>
<ellipse cx="620.2" cy="200.1" rx="1.1" ry="0.6" transform="rotate(60 620.2 200.1)" style="fill:#8a8a8a;stroke:none"/>
<line x1="623" y1="198.7" x2="629" y2="195.3" class="thin"/>
<path d="M548.4 229.1 L538.3 234.7 L538.3 248.9 L549.9 254.5 L560.3 248 L560.3 235.4 Z" class="w"/>
<path d="M538.3 234.7 L549.9 240.6 L560.3 235.4"/>
<line x1="549.9" y1="240.6" x2="549.9" y2="254.5"/>
<ellipse cx="541.2" cy="238.6" rx="1.5" ry="1" transform="rotate(30 541.2 238.6)"/>
<ellipse cx="546.6" cy="241.4" rx="1.5" ry="1" transform="rotate(30 546.6 241.4)"/>
<ellipse cx="541.2" cy="246.3" rx="1.5" ry="1" transform="rotate(30 541.2 246.3)"/>
<ellipse cx="546.6" cy="249.2" rx="1.5" ry="1" transform="rotate(30 546.6 249.2)"/>
<ellipse cx="543.9" cy="243.9" rx="1.9" ry="1.4" transform="rotate(30 543.9 243.9)"/>
<path d="M552.5 241.5 L556 239.6 L556 242 L552.5 243.9 Z"/>
<path d="M554 248.8 L557.8 246.7 L557.8 249.3 L554 251.4 Z"/>
<line x1="518.7" y1="259.2" x2="527.8" y2="254" style="stroke:#2e2e2e;stroke-width:2.2;stroke-linecap:butt"/>
<ellipse cx="517.4" cy="260" rx="3.2" ry="2.4" transform="rotate(60 517.4 260)" class="w" style="stroke-width:1.3"/>
<ellipse cx="517.6" cy="259.9" rx="1.6" ry="1.2" transform="rotate(60 517.6 259.9)" class="k"/>
<ellipse cx="532.9" cy="251.3" rx="2.8" ry="1.7" transform="rotate(60 532.9 251.3)" style="fill:#3a3a3a;stroke:#2e2e2e;stroke-width:0.9"/>
<ellipse cx="533.1" cy="251.2" rx="1.1" ry="0.6" transform="rotate(60 533.1 251.2)" style="fill:#8a8a8a;stroke:none"/>
<path d="M315.3 74.8 L330.5 66.9 C334 65.3 337.5 72.5 334 74.9 L299.9 94.9 C292 99.4 285 100.8 279 102.5"/>
<path d="M266 103.3 C245 103.5 224.2 91 224.2 74.6 C224.2 58 245 46.5 270 46.5 C296 46.5 316 58 316 72 C316 78 312 83.5 305.7 87.9 L270.6 107.3"/>
<path d="M271 96.5 L297 81 C303 77.5 307 74 306.6 69 C306 60 290 55.2 270.3 55.2 C250 55.2 233.7 64 233.7 75.6 C233.7 88 252 96.5 271 96.5 Z"/>
<line x1="265.5" y1="103.6" x2="233.9" y2="115.9" style="stroke-width:3;stroke-linecap:butt"/>
<line x1="265.5" y1="103.6" x2="233.9" y2="115.9" style="stroke:#fff;stroke-width:1.4;stroke-linecap:butt"/>
<line x1="238.2" y1="114.2" x2="233.9" y2="115.9" style="stroke-width:2.4;stroke:#666;stroke-linecap:round"/>
<line x1="267.5" y1="105.8" x2="244.2" y2="122.7" style="stroke-width:3;stroke-linecap:butt"/>
<line x1="267.5" y1="105.8" x2="244.2" y2="122.7" style="stroke:#fff;stroke-width:1.4;stroke-linecap:butt"/>
<line x1="247.9" y1="120" x2="244.2" y2="122.7" style="stroke-width:2.4;stroke:#666;stroke-linecap:round"/>
<ellipse cx="267.6" cy="103.2" rx="2.5" ry="5.1" transform="rotate(29 267.6 103.2)" class="w"/>
<ellipse cx="267.6" cy="103.2" rx="1.3" ry="3.2" transform="rotate(29 267.6 103.2)"/>
<path d="M280.8 712.2 L284 711.2 L287.1 709.9 L289.9 708.3 L292.6 706.3 L295 704 L297.2 701.4 L299.2 698.5 L300.9 695.3 L302.4 691.8 L303.6 688.1 L304.6 684.2 L305.3 680 L305.7 675.7 L305.8 671.2 L305.6 666.5 L305.2 661.7 L304.5 656.8 L303.5 651.8 L302.3 646.7 L300.8 641.7 L299 636.6 L297 631.5 L294.8 626.5 L292.3 621.6 L289.6 616.7 L286.8 612 L283.7 607.3 L280.5 602.9 L277.1 598.6 L273.6 594.6 L269.9 590.7 L266.2 587.1 L262.4 583.8 L258.5 580.7 L254.5 578" class="w"/>
<ellipse cx="245.3" cy="642.3" rx="79.5" ry="47.2" transform="rotate(60 245.3 642.3)" class="w"/>
<path d="M241.1 574.4 L237.1 572.7 L233 571.3 L229.1 570.4 L225.2 569.8 L221.4 569.5 L217.8 569.7 L214.3 570.2 L210.9 571.1 L207.7 572.3 L204.8 573.9 L202 575.9 L199.4 578.2 L197.1 580.8 L195.1 583.8 L193.3 587 L191.7 590.6 L190.5 594.4 L189.5 598.4" style="stroke:#fff;stroke-width:3"/>
<path d="M233.5 570.3 L234.1 566.8 L238.1 562.2 L245.6 559.9 L252.5 556.5 L254.8 557.1 L257.1 561.1 L254.8 562.8 L257.6 567.4 L261.1 574.9 L261.7 581.8 L259.4 583.5 L264 586.4 L269 590.6 L262 596 L240 590 Z" style="fill:#fff;stroke:none"/>
<path d="M233.5 570.3 L234.1 566.8 L238.1 562.2 L245.6 559.9 L252.5 556.5 L254.8 557.1 L257.1 561.1 L254.8 562.8 L257.6 567.4 L261.1 574.9 L261.7 581.8 L259.4 583.5 L264 586.4 L269 590.6"/>
<path d="M245.6 559.9 L246.5 561.8 L250.2 568 L254.8 573.7 L255.3 578.3 L252.5 581.5" class="thin"/>
<path d="M234.1 566.8 L233.5 578.9 L241 575.5" class="thin"/>
<line x1="254.8" y1="562.8" x2="247" y2="561.2" class="thin"/>
<line x1="239" y1="569.5" x2="252.2" y2="576.8" style="stroke-width:4.6;stroke-linecap:round"/>
<line x1="239" y1="569.5" x2="252.2" y2="576.8" style="stroke:#fff;stroke-width:2.8;stroke-linecap:round"/>
<line x1="240.2" y1="569.6" x2="252" y2="576.1" style="stroke-width:2.2;stroke-linecap:round"/>
<line x1="240.2" y1="569.6" x2="252" y2="576.1" style="stroke:#fff;stroke-width:0.8;stroke-linecap:round"/>
<path d="M233.5 570.3 L229.5 569.1 L226 568.6 L221.4 570.9 L218 572.6 L212.2 572 L206.5 572.6 L203 575.5 L201.3 580.6 L197.3 583.5 L193.8 588.2 L205 600 L240 585 Z" style="fill:#fff;stroke:none"/>
<path d="M233.5 570.3 L229.5 569.1 L226 568.6 L221.4 570.9 L218 572.6 L212.2 572 L206.5 572.6 L203 575.5 L201.3 580.6 L197.3 583.5 L193.8 588.2"/>
<path d="M193.8 588.2 L190.5 592.5 L187.9 595.2 L181.8 596 L172.3 601.3 L173.4 606.7 L178.7 612.8 L186.3 618.1 L187.9 621.1 L188.6 625.5 L200 615 Z" style="fill:#fff;stroke:none"/>
<path d="M193.8 588.2 L190.5 592.5 L187.9 595.2 L181.8 596 L172.3 601.3 L173.4 606.7 L178.7 612.8 L186.3 618.1 L187.9 621.1 L188.6 625.5"/>
<path d="M181.8 596 L184.2 599.2 L188.2 600" class="thin"/>
<ellipse cx="184" cy="607.4" rx="4.5" ry="3" transform="rotate(60 184 607.4)" class="w"/>
<ellipse cx="184.8" cy="607.1" rx="2.9" ry="1.9" transform="rotate(60 184.8 607.1)" class="k"/>
<path d="M300 652 L301.2 653.4 L303 661 L305.2 666.8 L309.5 670.8 L314.2 674.6 L322 676.5 L325.2 679.1 L325.4 682.3 L322.6 685.6 L316.8 687.5 L311.6 686.2 L305.2 684.3 L303.9 687.5 L301.3 695.3 L299.5 700 L290.9 705.2 L286.6 712.1 L275.3 716.4 L268.5 716.9 L280 690 L290 660 Z" style="fill:#fff;stroke:none"/>
<path d="M300 652 L301.2 653.4 L303 661 L305.2 666.8 L309.5 670.8 L314.2 674.6 L322 676.5 L325.2 679.1 L325.4 682.3 L322.6 685.6 L316.8 687.5 L311.6 686.2 L305.2 684.3 L303.9 687.5 L301.3 695.3 L299.5 700 L290.9 705.2 L286.6 712.1 L275.3 716.4 L268.5 716.9"/>
<path d="M302.5 664.5 L305.8 669.4 L312.9 677.8 L317.5 683 L316.8 686.9" class="thin"/>
<ellipse cx="308" cy="678.4" rx="4.6" ry="3.1" transform="rotate(60 308 678.4)" class="w"/>
<ellipse cx="308.7" cy="678" rx="2.8" ry="1.8" transform="rotate(60 308.7 678)" style="fill:#444"/>
<path d="M227 695 L232.2 701.7 L234 708.6 L242.6 725.9 L255.5 724.1 L258.1 719 L262.4 718.1 L268.5 716.9 L262 705 L240 690 Z" style="fill:#fff;stroke:none"/>
<path d="M227 695 L232.2 701.7 L234 708.6 L242.6 725.9 L255.5 724.1 L258.1 719 L262.4 718.1 L268.5 716.9"/>
<line x1="239.4" y1="711.6" x2="251.3" y2="718.9" style="stroke-width:4.6;stroke-linecap:round"/>
<line x1="239.4" y1="711.6" x2="251.3" y2="718.9" style="stroke:#fff;stroke-width:2.8;stroke-linecap:round"/>
<line x1="240.6" y1="711.7" x2="251.1" y2="718.2" style="stroke-width:2.2;stroke-linecap:round"/>
<line x1="240.6" y1="711.7" x2="251.1" y2="718.2" style="stroke:#fff;stroke-width:0.8;stroke-linecap:round"/>
<ellipse cx="206.8" cy="578.7" rx="3.4" ry="2.3" transform="rotate(60 206.8 578.7)" class="w"/>
<line x1="205.9" y1="577.1" x2="207.7" y2="580.3" class="thin"/>
<ellipse cx="245.2" cy="582.7" rx="3.4" ry="2.3" transform="rotate(60 245.2 582.7)" class="w"/>
<line x1="244.3" y1="581.1" x2="246.1" y2="584.3" class="thin"/>
<ellipse cx="283.2" cy="621.7" rx="3.4" ry="2.3" transform="rotate(60 283.2 621.7)" class="w"/>
<line x1="282.3" y1="620.1" x2="284.1" y2="623.3" class="thin"/>
<ellipse cx="206.8" cy="665.3" rx="3.4" ry="2.3" transform="rotate(60 206.8 665.3)" class="w"/>
<line x1="205.9" y1="663.7" x2="207.7" y2="666.9" class="thin"/>
<ellipse cx="298.7" cy="674.2" rx="3.4" ry="2.3" transform="rotate(60 298.7 674.2)" class="w"/>
<line x1="297.8" y1="672.6" x2="299.6" y2="675.8" class="thin"/>
<ellipse cx="245.2" cy="705" rx="3.4" ry="2.3" transform="rotate(60 245.2 705)" class="w"/>
<line x1="244.3" y1="703.4" x2="246.1" y2="706.6" class="thin"/>
<ellipse cx="283.2" cy="708.8" rx="3.4" ry="2.3" transform="rotate(60 283.2 708.8)" class="w"/>
<line x1="282.3" y1="707.2" x2="284.1" y2="710.4" class="thin"/>
<ellipse cx="191.5" cy="612.5" rx="3.4" ry="2.3" transform="rotate(60 191.5 612.5)" class="w"/>
<line x1="190.6" y1="610.9" x2="192.4" y2="614.1" class="thin"/>
<ellipse cx="244.6" cy="642.7" rx="69.3" ry="40" transform="rotate(60 244.6 642.7)" class="w"/>
<ellipse cx="244.9" cy="642.5" rx="67.7" ry="38.6" transform="rotate(60 244.9 642.5)"/>
<line x1="196.5" y1="584.6" x2="204.5" y2="580" class="thin"/>
<line x1="192.4" y1="587" x2="197.6" y2="584" style="stroke:#3a3a3a;stroke-width:3.4;stroke-linecap:butt"/>
<path d="M187.8 585.4 L191.9 585.3 L193.6 588.3 L191.4 591.8 Z" style="fill:#8a8a8a;stroke:#333;stroke-width:0.8"/>
<ellipse cx="189.6" cy="588.6" rx="3.7" ry="2.4" transform="rotate(60 189.6 588.6)" style="fill:#e6e6e6;stroke:#333;stroke-width:1.1"/>
<line x1="188.3" y1="587.7" x2="190.9" y2="589.5" style="stroke-width:0.8"/>
<line x1="189.9" y1="586.9" x2="189.3" y2="590.3" style="stroke-width:0.8"/>
<line x1="234.9" y1="589" x2="242.5" y2="584.2" class="thin"/>
<line x1="230.8" y1="591.4" x2="236" y2="588.4" style="stroke:#3a3a3a;stroke-width:3.4;stroke-linecap:butt"/>
<path d="M226.2 589.8 L230.3 589.7 L232 592.7 L229.8 596.2 Z" style="fill:#8a8a8a;stroke:#333;stroke-width:0.8"/>
<ellipse cx="228" cy="593" rx="3.7" ry="2.4" transform="rotate(60 228 593)" style="fill:#e6e6e6;stroke:#333;stroke-width:1.1"/>
<line x1="226.7" y1="592.1" x2="229.3" y2="593.9" style="stroke-width:0.8"/>
<line x1="228.3" y1="591.3" x2="227.7" y2="594.7" style="stroke-width:0.8"/>
<line x1="272.9" y1="628.6" x2="280.5" y2="623.2" class="thin"/>
<line x1="268.8" y1="631" x2="274" y2="628" style="stroke:#3a3a3a;stroke-width:3.4;stroke-linecap:butt"/>
<path d="M264.1 629.4 L268.3 629.3 L270 632.3 L267.9 635.8 Z" style="fill:#8a8a8a;stroke:#333;stroke-width:0.8"/>
<ellipse cx="266" cy="632.6" rx="3.7" ry="2.4" transform="rotate(60 266 632.6)" style="fill:#e6e6e6;stroke:#333;stroke-width:1.1"/>
<line x1="264.7" y1="631.7" x2="267.3" y2="633.5" style="stroke-width:0.8"/>
<line x1="266.3" y1="630.9" x2="265.7" y2="634.3" style="stroke-width:0.8"/>
<line x1="196.5" y1="671.2" x2="204.3" y2="666.7" class="thin"/>
<line x1="192.4" y1="673.6" x2="197.6" y2="670.6" style="stroke:#3a3a3a;stroke-width:3.4;stroke-linecap:butt"/>
<path d="M187.8 672 L191.9 671.9 L193.6 674.9 L191.4 678.4 Z" style="fill:#8a8a8a;stroke:#333;stroke-width:0.8"/>
<ellipse cx="189.6" cy="675.2" rx="3.7" ry="2.4" transform="rotate(60 189.6 675.2)" style="fill:#e6e6e6;stroke:#333;stroke-width:1.1"/>
<line x1="188.3" y1="674.3" x2="190.9" y2="676.1" style="stroke-width:0.8"/>
<line x1="189.9" y1="673.5" x2="189.3" y2="676.9" style="stroke-width:0.8"/>
<line x1="288.2" y1="679.8" x2="296" y2="675.7" class="thin"/>
<line x1="284.1" y1="682.2" x2="289.3" y2="679.2" style="stroke:#3a3a3a;stroke-width:3.4;stroke-linecap:butt"/>
<path d="M279.4 680.6 L283.6 680.5 L285.3 683.5 L283.2 687 Z" style="fill:#8a8a8a;stroke:#333;stroke-width:0.8"/>
<ellipse cx="281.3" cy="683.8" rx="3.7" ry="2.4" transform="rotate(60 281.3 683.8)" style="fill:#e6e6e6;stroke:#333;stroke-width:1.1"/>
<line x1="280" y1="682.9" x2="282.6" y2="684.7" style="stroke-width:0.8"/>
<line x1="281.6" y1="682.1" x2="281" y2="685.5" style="stroke-width:0.8"/>
<line x1="234.9" y1="710.4" x2="242.6" y2="706.4" class="thin"/>
<line x1="230.8" y1="712.8" x2="236" y2="709.8" style="stroke:#3a3a3a;stroke-width:3.4;stroke-linecap:butt"/>
<path d="M226.2 711.2 L230.3 711.1 L232 714.1 L229.8 717.6 Z" style="fill:#8a8a8a;stroke:#333;stroke-width:0.8"/>
<ellipse cx="228" cy="714.4" rx="3.7" ry="2.4" transform="rotate(60 228 714.4)" style="fill:#e6e6e6;stroke:#333;stroke-width:1.1"/>
<line x1="226.7" y1="713.5" x2="229.3" y2="715.3" style="stroke-width:0.8"/>
<line x1="228.3" y1="712.7" x2="227.7" y2="716.1" style="stroke-width:0.8"/>
<line x1="273.2" y1="714.4" x2="280.6" y2="710.2" class="thin"/>
<line x1="269.1" y1="716.8" x2="274.3" y2="713.8" style="stroke:#3a3a3a;stroke-width:3.4;stroke-linecap:butt"/>
<path d="M264.4 715.2 L268.6 715.1 L270.3 718.1 L268.2 721.6 Z" style="fill:#8a8a8a;stroke:#333;stroke-width:0.8"/>
<ellipse cx="266.3" cy="718.4" rx="3.7" ry="2.4" transform="rotate(60 266.3 718.4)" style="fill:#e6e6e6;stroke:#333;stroke-width:1.1"/>
<line x1="265" y1="717.5" x2="267.6" y2="719.3" style="stroke-width:0.8"/>
<line x1="266.6" y1="716.7" x2="266" y2="720.1" style="stroke-width:0.8"/>
<line x1="221.9" y1="545.1" x2="250.3" y2="528.9" style="stroke:#444;stroke-width:3.7;stroke-linecap:butt"/>
<line x1="221.9" y1="545.1" x2="249.8" y2="529.2" style="stroke:#8c8c8c;stroke-width:2.0;stroke-linecap:butt;stroke-dasharray:1 0.7"/>
<path d="M217.1 542.8 L221.5 543.2 L223.3 546.4 L221.5 550.4 Z" style="fill:#8a8a8a;stroke:#333;stroke-width:0.8"/>
<ellipse cx="219.3" cy="546.6" rx="4.4" ry="2.8" transform="rotate(60 219.3 546.6)" style="fill:#e6e6e6;stroke:#333;stroke-width:1.1"/>
<line x1="218" y1="545.7" x2="220.6" y2="547.5" style="stroke-width:0.8"/>
<line x1="219.6" y1="544.9" x2="219" y2="548.3" style="stroke-width:0.8"/>
<line x1="222.8" y1="555.6" x2="228.7" y2="552.2" style="stroke:#3a3a3a;stroke-width:3.6;stroke-linecap:butt"/>
<path d="M217.9 553.6 L222.3 553.9 L224 556.9 L222.1 560.8 Z" style="fill:#8a8a8a;stroke:#333;stroke-width:0.8"/>
<ellipse cx="220" cy="557.2" rx="4.2" ry="2.7" transform="rotate(60 220 557.2)" style="fill:#e6e6e6;stroke:#333;stroke-width:1.1"/>
<line x1="218.7" y1="556.3" x2="221.3" y2="558.1" style="stroke-width:0.8"/>
<line x1="220.3" y1="555.5" x2="219.7" y2="558.9" style="stroke-width:0.8"/>
<line x1="221.7" y1="759.5" x2="249.8" y2="743.3" style="stroke:#444;stroke-width:3.7;stroke-linecap:butt"/>
<line x1="221.7" y1="759.5" x2="249.3" y2="743.6" style="stroke:#8c8c8c;stroke-width:2.0;stroke-linecap:butt;stroke-dasharray:1 0.7"/>
<path d="M216.9 757.2 L221.3 757.6 L223.1 760.8 L221.3 764.8 Z" style="fill:#8a8a8a;stroke:#333;stroke-width:0.8"/>
<ellipse cx="219.1" cy="761" rx="4.4" ry="2.8" transform="rotate(60 219.1 761)" style="fill:#e6e6e6;stroke:#333;stroke-width:1.1"/>
<line x1="217.8" y1="760.1" x2="220.4" y2="761.9" style="stroke-width:0.8"/>
<line x1="219.4" y1="759.3" x2="218.8" y2="762.7" style="stroke-width:0.8"/>
<line x1="221.9" y1="747.3" x2="227.8" y2="743.9" style="stroke:#3a3a3a;stroke-width:3.6;stroke-linecap:butt"/>
<path d="M217 745.3 L221.4 745.6 L223.1 748.6 L221.2 752.5 Z" style="fill:#8a8a8a;stroke:#333;stroke-width:0.8"/>
<ellipse cx="219.1" cy="748.9" rx="4.2" ry="2.7" transform="rotate(60 219.1 748.9)" style="fill:#e6e6e6;stroke:#333;stroke-width:1.1"/>
<line x1="217.8" y1="748" x2="220.4" y2="749.8" style="stroke-width:0.8"/>
<line x1="219.4" y1="747.2" x2="218.8" y2="750.6" style="stroke-width:0.8"/>
<path d="M230.3 550.5 L234.2 549.8 L234.2 557.8" class="thin"/>
<path d="M238.8 719.4 L233.9 722 L233.4 740.1 L228.5 743.6" class="thin"/>
<path d="M173 808 L177 806.3 L180.8 804.1 L184.3 801.4 L187.5 798.3 L190.4 794.8 L193 790.8 L195.3 786.4 L197.1 781.7 L198.7 776.7 L199.8 771.3 L200.6 765.6 L201 759.6 L201 753.4 L200.7 747 L199.9 740.5 L198.8 733.7 L197.3 726.9 L195.5 720 L193.3 713.1 L190.7 706.2 L187.9 699.3 L184.7 692.4 L181.2 685.7 L177.5 679.1 L173.4 672.6 L170.5 672.2 L166.2 666 L161.6 660 L156.9 654.3 L152 648.9 L146.9 643.9 L141.7 639.2 L136.5 634.8 L131.1 630.9 L125.8 627.3 L120.4 624.3 L115 621.6 L109.7 619.4 L104.4 617.7 L99.3 616.5 L94.2 615.8 L89.3 615.5 L84.6 615.8 L80.1 616.5 L75.8 617.7 L71.7 619.4 L67.9 621.6 L64.3 624.3 Z" class="w"/>
<ellipse cx="113" cy="719.4" rx="107.3" ry="61.9" transform="rotate(60 113 719.4)" class="w"/>
<clipPath id="cv113"><ellipse cx="113" cy="719.4" rx="68.7" ry="41" transform="rotate(60 113 719.4)"/></clipPath>
<ellipse cx="113" cy="719.4" rx="68.7" ry="41" transform="rotate(60 113 719.4)"/>
<g clip-path="url(#cv113)">
<ellipse cx="115.9" cy="717.7" rx="68.7" ry="41" transform="rotate(60 115.9 717.7)"/>
</g>
<path d="M535.3 881.3 L539.4 879.6 L543.2 877.4 L546.7 874.8 L549.9 871.7 L552.8 868.2 L555.4 864.4 L557.7 860.1 L559.6 855.4 L561.2 850.4 L562.4 845.2 L563.3 839.6 L563.7 833.7 L563.9 827.6 L563.6 821.3 L563 814.9 L562 808.2 L560.6 801.5 L558.9 794.7 L556.8 787.9 L554.4 781 L551.7 774.2 L548.7 767.4 L545.3 760.7 L541.7 754.1 L537.8 747.7 L533.7 741.4 L529.3 735.4 L524.8 729.6 L520 724.1 L515.1 718.9 L510.1 714 L505 709.5 L499.7 705.3 L494.4 701.5 L489.1 698.2 L483.8 695.2 L478.5 692.7 L473.2 690.6 L468 689.1 L462.9 687.9 L457.9 687.3 L453.1 687.1 L448.4 687.4 L443.9 688.2 L439.7 689.5 L435.6 691.2 L431.8 693.4 L428.3 696 Z" class="w"/>
<ellipse cx="477.1" cy="791.4" rx="107.6" ry="62.6" transform="rotate(60 477.1 791.4)" class="w"/>
<clipPath id="cv477"><ellipse cx="477.1" cy="791.4" rx="66.8" ry="39.2" transform="rotate(60 477.1 791.4)"/></clipPath>
<ellipse cx="477.1" cy="791.4" rx="66.8" ry="39.2" transform="rotate(60 477.1 791.4)"/>
<g clip-path="url(#cv477)">
<ellipse cx="480" cy="789.7" rx="66.8" ry="39.2" transform="rotate(60 480 789.7)"/>
</g>
<ellipse cx="52.3" cy="683.3" rx="4.9" ry="2.8" transform="rotate(60 52.3 683.3)"/>
<path d="M52.4 687.8 L52.6 687.8 L52.8 687.8 L53 687.8 L53.1 687.8 L53.3 687.7 L53.4 687.6 L53.6 687.6 L53.7 687.4 L53.8 687.3 L53.9 687.2 L54 687 L54.1 686.9 L54.1 686.7 L54.2 686.5 L54.2 686.3 L54.2 686 L54.2 685.8 L54.2 685.6 L54.2 685.3 L54.2 685 L54.1 684.8 L54 684.5 L54 684.2 L53.9 684 L53.8 683.7 L53.6 683.4 L53.5 683.1 L53.4 682.9 L53.2 682.6 L53.1 682.4 L52.9 682.1 L52.7 681.9 L52.5 681.6 L52.3 681.4 L52.1 681.2 L51.9 681 L51.7 680.9 L51.5 680.7 L51.3 680.5 L51.1 680.4 L50.9 680.3 L50.7 680.2 L50.5 680.1 L50.3 680.1 L50.1 680 L49.9 680 L49.8 680 L49.6 680 L49.4 680.1 L49.3 680.1 L49.1 680.2 L49 680.3 L48.9 680.4 L48.8 680.5 L48.7 680.7 L48.6 680.8 L48.5 681"/>
<ellipse cx="175.9" cy="755.3" rx="4.9" ry="2.8" transform="rotate(60 175.9 755.3)"/>
<path d="M176 759.8 L176.2 759.8 L176.4 759.8 L176.6 759.8 L176.7 759.8 L176.9 759.7 L177 759.6 L177.2 759.6 L177.3 759.4 L177.4 759.3 L177.5 759.2 L177.6 759 L177.7 758.9 L177.7 758.7 L177.8 758.5 L177.8 758.3 L177.8 758 L177.8 757.8 L177.8 757.6 L177.8 757.3 L177.8 757 L177.7 756.8 L177.6 756.5 L177.6 756.2 L177.5 756 L177.4 755.7 L177.2 755.4 L177.1 755.1 L177 754.9 L176.8 754.6 L176.7 754.4 L176.5 754.1 L176.3 753.9 L176.1 753.6 L175.9 753.4 L175.7 753.2 L175.5 753 L175.3 752.9 L175.1 752.7 L174.9 752.5 L174.7 752.4 L174.5 752.3 L174.3 752.2 L174.1 752.1 L173.9 752.1 L173.7 752 L173.5 752 L173.4 752 L173.2 752 L173 752.1 L172.9 752.1 L172.7 752.2 L172.6 752.3 L172.5 752.4 L172.4 752.5 L172.3 752.7 L172.2 752.8 L172.1 753"/>
<ellipse cx="414.2" cy="755.9" rx="4.9" ry="2.8" transform="rotate(60 414.2 755.9)"/>
<path d="M414.3 760.4 L414.5 760.4 L414.7 760.4 L414.9 760.4 L415 760.4 L415.2 760.3 L415.3 760.2 L415.5 760.2 L415.6 760 L415.7 759.9 L415.8 759.8 L415.9 759.6 L416 759.5 L416 759.3 L416.1 759.1 L416.1 758.9 L416.1 758.6 L416.1 758.4 L416.1 758.2 L416.1 757.9 L416.1 757.6 L416 757.4 L415.9 757.1 L415.9 756.8 L415.8 756.6 L415.7 756.3 L415.5 756 L415.4 755.7 L415.3 755.5 L415.1 755.2 L415 755 L414.8 754.7 L414.6 754.5 L414.4 754.2 L414.2 754 L414 753.8 L413.8 753.6 L413.6 753.5 L413.4 753.3 L413.2 753.1 L413 753 L412.8 752.9 L412.6 752.8 L412.4 752.7 L412.2 752.7 L412 752.6 L411.8 752.6 L411.7 752.6 L411.5 752.6 L411.3 752.7 L411.2 752.7 L411 752.8 L410.9 752.9 L410.8 753 L410.7 753.1 L410.6 753.3 L410.5 753.4 L410.4 753.6"/>
<ellipse cx="538" cy="826.9" rx="4.9" ry="2.8" transform="rotate(60 538 826.9)"/>
<path d="M538.1 831.4 L538.3 831.4 L538.5 831.4 L538.7 831.4 L538.8 831.4 L539 831.3 L539.1 831.2 L539.3 831.2 L539.4 831 L539.5 830.9 L539.6 830.8 L539.7 830.6 L539.8 830.5 L539.8 830.3 L539.9 830.1 L539.9 829.9 L539.9 829.6 L539.9 829.4 L539.9 829.2 L539.9 828.9 L539.9 828.6 L539.8 828.4 L539.7 828.1 L539.7 827.8 L539.6 827.6 L539.5 827.3 L539.3 827 L539.2 826.7 L539.1 826.5 L538.9 826.2 L538.8 826 L538.6 825.7 L538.4 825.5 L538.2 825.2 L538 825 L537.8 824.8 L537.6 824.6 L537.4 824.5 L537.2 824.3 L537 824.1 L536.8 824 L536.6 823.9 L536.4 823.8 L536.2 823.7 L536 823.7 L535.8 823.6 L535.6 823.6 L535.5 823.6 L535.3 823.6 L535.1 823.7 L535 823.7 L534.8 823.8 L534.7 823.9 L534.6 824 L534.5 824.1 L534.4 824.3 L534.3 824.4 L534.2 824.6"/>
<line x1="38.5" y1="690.9" x2="42.8" y2="688.4" style="stroke:#1e1e1e;stroke-width:4.6;stroke-linecap:butt"/>
<ellipse cx="36.2" cy="692.2" rx="3.3" ry="2.4" transform="rotate(60 36.2 692.2)" style="fill:#b5b5b5;stroke:#333;stroke-width:1.1"/>
<ellipse cx="36.4" cy="692.2" rx="1.5" ry="1" transform="rotate(60 36.4 692.2)" style="stroke-width:0.8"/>
<line x1="162.4" y1="762.7" x2="166.7" y2="760.2" style="stroke:#1e1e1e;stroke-width:4.6;stroke-linecap:butt"/>
<ellipse cx="160.1" cy="764" rx="3.3" ry="2.4" transform="rotate(60 160.1 764)" style="fill:#b5b5b5;stroke:#333;stroke-width:1.1"/>
<ellipse cx="160.3" cy="764" rx="1.5" ry="1" transform="rotate(60 160.3 764)" style="stroke-width:0.8"/>
<line x1="400.2" y1="763.2" x2="404.5" y2="760.7" style="stroke:#1e1e1e;stroke-width:4.6;stroke-linecap:butt"/>
<ellipse cx="397.9" cy="764.5" rx="3.3" ry="2.4" transform="rotate(60 397.9 764.5)" style="fill:#b5b5b5;stroke:#333;stroke-width:1.1"/>
<ellipse cx="398.1" cy="764.5" rx="1.5" ry="1" transform="rotate(60 398.1 764.5)" style="stroke-width:0.8"/>
<line x1="524.9" y1="835" x2="529.2" y2="832.5" style="stroke:#1e1e1e;stroke-width:4.6;stroke-linecap:butt"/>
<ellipse cx="522.6" cy="836.3" rx="3.3" ry="2.4" transform="rotate(60 522.6 836.3)" style="fill:#b5b5b5;stroke:#333;stroke-width:1.1"/>
<ellipse cx="522.8" cy="836.3" rx="1.5" ry="1" transform="rotate(60 522.8 836.3)" style="stroke-width:0.8"/>
<path d="M151.3 383.4 L89.4 418.8 L361.8 577 L284.5 621.2" class="cl"/>
<path d="M530.3 86.1 L541.8 92.6" class="cl"/>
<path d="M548.3 96.9 L556.5 102" class="cl"/>
<path d="M540.4 117.7 L551 124.5 L566.5 116.5" class="cl"/>
<path d="M605 155 L619.2 163.3" class="cl"/>
<path d="M626.7 168.3 L638.3 175 L638.3 177" class="cl"/>
<line x1="119.7" y1="270.3" x2="116.4" y2="321.5" class="ld"/>
<line x1="133.4" y1="264.5" x2="180" y2="291" class="ld"/>
<line x1="269" y1="430.7" x2="209.3" y2="397.9" class="ld"/>
<line x1="179.3" y1="250.7" x2="222.8" y2="276.2" class="ld"/>
<line x1="272" y1="201" x2="315.8" y2="225.9" class="ld"/>
<line x1="321.2" y1="314.8" x2="336" y2="368" class="ld"/>
<line x1="329.3" y1="310.8" x2="359" y2="354" class="ld"/>
<line x1="236.5" y1="238.6" x2="300.3" y2="275.9" class="ld"/>
<line x1="342" y1="139" x2="383" y2="163.5" class="ld"/>
<line x1="437.5" y1="130.3" x2="478.5" y2="153.5" class="ld"/>
<line x1="646.9" y1="55.8" x2="610.5" y2="64.7" class="ld"/>
<line x1="646.9" y1="108.2" x2="606.5" y2="118" class="ld"/>
<line x1="507.6" y1="49.5" x2="534.7" y2="78.9" class="ld"/>
<line x1="527.9" y1="38" x2="546.1" y2="72.9" class="ld"/>
<line x1="652.8" y1="180.3" x2="638.8" y2="186.5" class="ld"/>
<line x1="644.2" y1="215.8" x2="628.3" y2="195.8" class="ld"/>
<line x1="644.2" y1="215.8" x2="621.7" y2="201.7" class="ld"/>
<line x1="620" y1="231.3" x2="609.2" y2="193.6" class="ld"/>
<line x1="620" y1="231.3" x2="610" y2="207.7" class="ld"/>
<line x1="585.4" y1="261" x2="560.1" y2="247.1" class="ld"/>
<line x1="559.2" y1="274.3" x2="534.2" y2="253.6" class="ld"/>
<line x1="537.9" y1="284.6" x2="518.6" y2="261.9" class="ld"/>
<line x1="359.6" y1="52.6" x2="310.5" y2="66.2" class="ld"/>
<line x1="343.3" y1="674.2" x2="293.8" y2="645.5" class="ld"/>
<line x1="335.7" y1="724.8" x2="284.8" y2="683.2" class="ld"/>
<line x1="176" y1="510" x2="216.8" y2="544.7" class="ld"/>
<line x1="178.5" y1="533.5" x2="217.5" y2="555.8" class="ld"/>
<line x1="226.5" y1="786.8" x2="185.2" y2="763.4" class="ld"/>
<line x1="202.5" y1="802.9" x2="165.5" y2="765.9" class="ld"/>
<line x1="591.4" y1="857.5" x2="544.4" y2="833" class="ld"/>
<line x1="567" y1="872.5" x2="527.6" y2="839.2" class="ld"/>
<circle cx="120.9" cy="256.7" r="13.3" class="w" style="stroke:#4e4e4e;stroke-width:1.1"/>
<text x="120.9" y="262.2" class="t" transform="translate(120.9 0) scale(0.70 1) translate(-120.9 0)">17</text>
<circle cx="280.7" cy="436.4" r="13.3" class="w" style="stroke:#4e4e4e;stroke-width:1.1"/>
<text x="280.7" y="441.9" class="t" transform="translate(280.7 0) scale(0.70 1) translate(-280.7 0)">18</text>
<circle cx="166.9" cy="243.8" r="13.3" class="w" style="stroke:#4e4e4e;stroke-width:1.1"/>
<text x="166.9" y="249.3" class="t" transform="translate(166.9 0) scale(0.70 1) translate(-166.9 0)">16</text>
<circle cx="264.1" cy="195" r="13.3" class="w" style="stroke:#4e4e4e;stroke-width:1.1"/>
<text x="264.1" y="200.5" class="t" transform="translate(264.1 0) scale(0.70 1) translate(-264.1 0)">12</text>
<circle cx="339.2" cy="380.1" r="13.3" class="w" style="stroke:#4e4e4e;stroke-width:1.1"/>
<text x="339.2" y="385.6" class="t" transform="translate(339.2 0) scale(0.70 1) translate(-339.2 0)">13</text>
<circle cx="366.2" cy="364.8" r="13.3" class="w" style="stroke:#4e4e4e;stroke-width:1.1"/>
<text x="366.2" y="370.3" class="t" transform="translate(366.2 0) scale(0.70 1) translate(-366.2 0)">14</text>
<circle cx="224.8" cy="231.7" r="13.3" class="w" style="stroke:#4e4e4e;stroke-width:1.1"/>
<text x="224.8" y="237.2" class="t" transform="translate(224.8 0) scale(0.70 1) translate(-224.8 0)">15</text>
<circle cx="332.1" cy="133.9" r="13.3" class="w" style="stroke:#4e4e4e;stroke-width:1.1"/>
<text x="332.1" y="139.4" class="t" transform="translate(332.1 0) scale(0.86 1) translate(-332.1 0)">9</text>
<circle cx="425.7" cy="123.2" r="13.5" style="fill:#ec1c24;stroke:#8d8d95;stroke-width:0.9"/>
<text x="425.7" y="128.2" class="t" style="fill:#c99aa0;font-size:14.5px" transform="translate(425.7 0) scale(0.78 1) translate(-425.7 0)">8</text>
<circle cx="660" cy="47" r="13.3" class="w" style="stroke:#4e4e4e;stroke-width:1.1"/>
<text x="660" y="52.5" class="t" transform="translate(660 0) scale(0.86 1) translate(-660 0)">2</text>
<circle cx="660" cy="104.4" r="13.3" class="w" style="stroke:#4e4e4e;stroke-width:1.1"/>
<text x="660" y="109.9" class="t" transform="translate(660 0) scale(0.86 1) translate(-660 0)">1</text>
<circle cx="498" cy="38.7" r="13.3" class="w" style="stroke:#4e4e4e;stroke-width:1.1"/>
<text x="498" y="44.2" class="t" transform="translate(498 0) scale(0.70 1) translate(-498 0)">10</text>
<circle cx="521.3" cy="24.8" r="13.3" class="w" style="stroke:#4e4e4e;stroke-width:1.1"/>
<text x="521.3" y="30.3" class="t" transform="translate(521.3 0) scale(0.70 1) translate(-521.3 0)">11</text>
<circle cx="665.6" cy="173.5" r="13.3" class="w" style="stroke:#4e4e4e;stroke-width:1.1"/>
<text x="665.6" y="179" class="t" transform="translate(665.6 0) scale(0.86 1) translate(-665.6 0)">6</text>
<circle cx="654.2" cy="225" r="13.3" class="w" style="stroke:#4e4e4e;stroke-width:1.1"/>
<text x="654.2" y="230.5" class="t" transform="translate(654.2 0) scale(0.70 1) translate(-654.2 0)">14</text>
<circle cx="625" cy="244.7" r="13.3" class="w" style="stroke:#4e4e4e;stroke-width:1.1"/>
<text x="625" y="250.2" class="t" transform="translate(625 0) scale(0.86 1) translate(-625 0)">7</text>
<circle cx="596.2" cy="267.8" r="13.3" class="w" style="stroke:#4e4e4e;stroke-width:1.1"/>
<text x="596.2" y="273.3" class="t" transform="translate(596.2 0) scale(0.86 1) translate(-596.2 0)">4</text>
<circle cx="569.9" cy="284.1" r="13.3" class="w" style="stroke:#4e4e4e;stroke-width:1.1"/>
<text x="569.9" y="289.6" class="t" transform="translate(569.9 0) scale(0.70 1) translate(-569.9 0)">14</text>
<circle cx="545.7" cy="296.4" r="13.3" class="w" style="stroke:#4e4e4e;stroke-width:1.1"/>
<text x="545.7" y="301.9" class="t" transform="translate(545.7 0) scale(0.86 1) translate(-545.7 0)">5</text>
<circle cx="373" cy="49.1" r="13.3" class="w" style="stroke:#4e4e4e;stroke-width:1.1"/>
<text x="373" y="54.6" class="t" transform="translate(373 0) scale(0.86 1) translate(-373 0)">3</text>
<circle cx="355.4" cy="681.4" r="13.3" class="w" style="stroke:#4e4e4e;stroke-width:1.1"/>
<text x="355.4" y="686.9" class="t" transform="translate(355.4 0) scale(0.70 1) translate(-355.4 0)">19</text>
<circle cx="347.8" cy="734.3" r="13.3" class="w" style="stroke:#4e4e4e;stroke-width:1.1"/>
<text x="347.8" y="739.8" class="t" transform="translate(347.8 0) scale(0.86 1) translate(-347.8 0)">20</text>
<circle cx="166.2" cy="500.8" r="13.3" class="w" style="stroke:#4e4e4e;stroke-width:1.1"/>
<text x="166.2" y="506.3" class="t" transform="translate(166.2 0) scale(0.86 1) translate(-166.2 0)">22</text>
<circle cx="166.2" cy="527.2" r="13.3" class="w" style="stroke:#4e4e4e;stroke-width:1.1"/>
<text x="166.2" y="532.7" class="t" transform="translate(166.2 0) scale(0.86 1) translate(-166.2 0)">21</text>
<circle cx="240.2" cy="796" r="16.3" class="w" style="stroke:#4e4e4e;stroke-width:1.1"/>
<text x="240.2" y="801.5" class="t" transform="translate(240.2 0) scale(0.90 1) translate(-240.2 0)">23a</text>
<circle cx="211.1" cy="812.7" r="13.3" class="w" style="stroke:#4e4e4e;stroke-width:1.1"/>
<text x="211.1" y="818.2" class="t" transform="translate(211.1 0) scale(0.86 1) translate(-211.1 0)">24</text>
<circle cx="605.7" cy="866.6" r="16.3" class="w" style="stroke:#4e4e4e;stroke-width:1.1"/>
<text x="605.7" y="872.1" class="t" transform="translate(605.7 0) scale(0.90 1) translate(-605.7 0)">23b</text>
<circle cx="576.6" cy="883.4" r="13.3" class="w" style="stroke:#4e4e4e;stroke-width:1.1"/>
<text x="576.6" y="888.9" class="t" transform="translate(576.6 0) scale(0.86 1) translate(-576.6 0)">24</text>
</g></svg>
</body></html>
